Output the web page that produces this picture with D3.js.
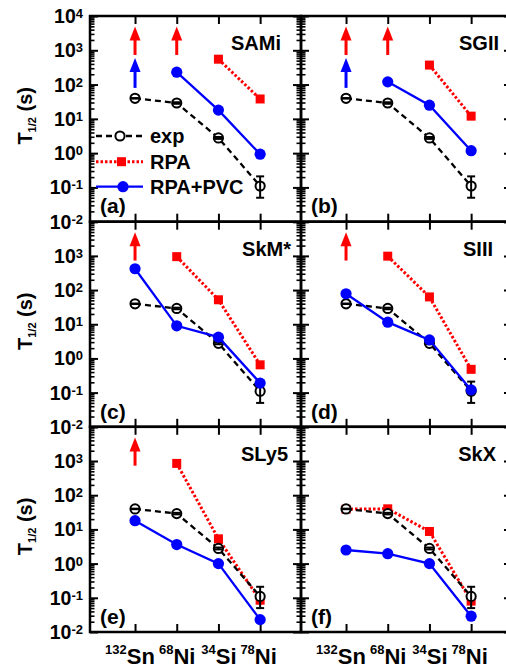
<!DOCTYPE html>
<html><head><meta charset="utf-8">
<script src="https://cdn.jsdelivr.net/npm/d3@7"></script>
<style>
html,body{margin:0;padding:0;background:#fff;}
svg{display:block;}
text{font-family:"Liberation Sans",Arial,Helvetica,sans-serif;font-weight:bold;fill:#000;}
</style></head>
<body>
<svg id="chart" width="506" height="669"></svg>
<script>
// ---------------- data ----------------
const elements = ["Sn", "Ni", "Si", "Ni"];
const massNumbers = ["132", "68", "34", "78"];
const panelNames = ["SAMi", "SGII", "SkM*", "SIII", "SLy5", "SkX"];
const panelLetters = ["(a)", "(b)", "(c)", "(d)", "(e)", "(f)"];

const expValues = [39.7, 29, 2.77, 0.11];
const expErrLow = [39.0, 27.5, 2.6, 0.05];
const expErrHigh = [40.4, 30.5, 2.95, 0.21];

const rpaA = [null, null, 550, 38];
const rpaB = [null, null, 370, 12];
const rpaC = [null, 950, 52, 0.65];
const rpaD = [null, 980, 63, 0.48];
const rpaE = [null, 850, 5.3, 0.085];
const rpaF = [39, 40, 8.7, 0.08];

const pvcA = [null, 230, 18, 0.93];
const pvcB = [null, 120, 25, 1.18];
const pvcC = [420, 9, 4.2, 0.19];
const pvcD = [78, 11.5, 3.5, 0.12];
const pvcE = [18, 3.6, 1.0, 0.023];
const pvcF = [2.5, 1.95, 1.0, 0.029];

// lower-limit arrows (category indices)
const rpaArrows = [[0, 1], [0, 1], [0], [0], [0], []];
const pvcArrows = [[0], [0], [], [], [], []];
const rpaArrowRange = [730, 4900];   // tail, tip
const pvcArrowRange = [80, 600];

const yTickExponents = [4, 3, 2, 1, 0, -1, -2];
const legendLabels = ["exp", "RPA", "RPA+PVC"];

const rpaSeries = [rpaA, rpaB, rpaC, rpaD, rpaE, rpaF];
const pvcSeries = [pvcA, pvcB, pvcC, pvcD, pvcE, pvcF];

// ---------------- layout ----------------
const colX = [[90, 301], [301, 512]];
const rowY = [[16, 221.7], [221.7, 426.8], [426.8, 632]];
const nameEndX = [281, 499, 291, 493, 288, 496];
const xLabelShift = [-5, 0.5, 0.5, -1.5];
const RED = "#ff0000", BLUE = "#0000ff";

const svg = d3.select("#chart");

function panel(i) {
  const col = i % 2, row = Math.floor(i / 2);
  const [x0, x1] = colX[col], [y0, y1] = rowY[row];
  const x = d3.scaleLinear().domain([-1.08, 3.98]).range([x0, x1]);
  const y = d3.scaleLog().domain([1e-2, 1e4]).range([y1, y0]);
  const g = svg.append("g");

  const minors = [];
  for (let e = -2; e < 4; e++) for (let m = 2; m <= 9; m++) minors.push(m * Math.pow(10, e));
  const majors = yTickExponents.map(e => Math.pow(10, e));

  function yAxes(axisFn, xpos) {
    g.append("g").attr("transform", `translate(${xpos},0)`)
      .call(axisFn(y).tickValues(minors).tickSize(4.5).tickFormat(""))
      .call(s => s.select(".domain").remove())
      .call(s => s.selectAll("line").attr("stroke", "#000").attr("stroke-width", 1.6));
    g.append("g").attr("transform", `translate(${xpos},0)`)
      .call(axisFn(y).tickValues(majors).tickSize(8).tickFormat(""))
      .call(s => s.select(".domain").remove())
      .call(s => s.selectAll("line").attr("stroke", "#000").attr("stroke-width", 2));
  }
  yAxes(d3.axisRight, x0);
  yAxes(d3.axisLeft, x1);

  function xAxes(axisFn, ypos) {
    g.append("g").attr("transform", `translate(0,${ypos})`)
      .call(axisFn(x).tickValues([0, 1, 2, 3]).tickSize(8).tickFormat(""))
      .call(s => s.select(".domain").remove())
      .call(s => s.selectAll("line").attr("stroke", "#000").attr("stroke-width", 2));
  }
  xAxes(d3.axisBottom, y0);
  xAxes(d3.axisTop, y1);

  g.append("rect").attr("x", x0).attr("y", y0).attr("width", x1 - x0).attr("height", y1 - y0)
    .attr("fill", "none").attr("stroke", "#000").attr("stroke-width", 2.5);

  // y tick labels (left column only)
  if (col === 0) {
    yTickExponents.forEach(e => {
      if (row > 0 && e === 4) return;
      const t = g.append("text").attr("x", 83).attr("y", y(Math.pow(10, e)) + 7)
        .attr("text-anchor", "end").style("font-size", "19.5px");
      t.append("tspan").text("10");
      t.append("tspan").attr("dy", -5).style("font-size", "13px").text(String(e));
    });
    const cy = (y0 + y1) / 2 - 3;
    const tt = g.append("text").attr("transform", `translate(32,${cy}) rotate(-90)`)
      .attr("text-anchor", "middle").style("font-size", "20px");
    tt.append("tspan").text("T");
    tt.append("tspan").attr("dy", 4).style("font-size", "11px").text("1/2");
    tt.append("tspan").attr("dy", -4).text(" (s)");
  }

  // x tick labels (bottom row only)
  if (row === 2) {
    elements.forEach((el, k) => {
      const t = g.append("text").attr("x", x(k) + xLabelShift[k]).attr("y", 664).attr("text-anchor", "middle")
        .style("font-size", "22px");
      t.append("tspan").attr("dy", -10).style("font-size", "13px").text(massNumbers[k]);
      t.append("tspan").attr("dy", 10).text(el);
    });
  }

  // arrows
  function arrow(k, range, color) {
    const xa = x(k), yt = y(range[0]), yh = y(range[1]);
    const headLen = 14, headW = 5.5;
    g.append("line").attr("x1", xa).attr("x2", xa).attr("y1", yt).attr("y2", yh + headLen - 1)
      .attr("stroke", color).attr("stroke-width", 3);
    g.append("path").attr("d", `M${xa},${yh} L${xa - headW},${yh + headLen} L${xa + headW},${yh + headLen} Z`)
      .attr("fill", color);
  }
  rpaArrows[i].forEach(k => arrow(k, rpaArrowRange, RED));
  pvcArrows[i].forEach(k => arrow(k, pvcArrowRange, BLUE));

  const line = d3.line().defined(d => d.v != null).x(d => x(d.k)).y(d => y(d.v));
  const toPts = arr => arr.map((v, k) => ({ k, v }));

  // RPA
  const rpa = toPts(rpaSeries[i]);
  g.append("path").attr("d", line(rpa)).attr("fill", "none").attr("stroke", RED)
    .attr("stroke-width", 3).attr("stroke-dasharray", "2.5,2");
  g.selectAll(null).data(rpa.filter(d => d.v != null)).join("rect")
    .attr("x", d => x(d.k) - 4.5).attr("y", d => y(d.v) - 4.5).attr("width", 9).attr("height", 9)
    .attr("fill", RED);

  // exp
  const ex = toPts(expValues);
  g.append("path").attr("d", line(ex)).attr("fill", "none").attr("stroke", "#000")
    .attr("stroke-width", 2.3).attr("stroke-dasharray", "6,4");
  g.selectAll(null).data(ex).join("circle")
    .attr("cx", d => x(d.k)).attr("cy", d => y(d.v)).attr("r", 4.6)
    .attr("fill", "#fff").attr("stroke", "#000").attr("stroke-width", 2);
  ex.forEach(d => {
    const xe = x(d.k), ylo = y(expErrLow[d.k]), yhi = y(expErrHigh[d.k]);
    g.append("line").attr("x1", xe).attr("x2", xe).attr("y1", ylo).attr("y2", yhi).attr("stroke", "#000").attr("stroke-width", 2);
    [ylo, yhi].forEach(yy => g.append("line").attr("x1", xe - 4).attr("x2", xe + 4).attr("y1", yy).attr("y2", yy)
      .attr("stroke", "#000").attr("stroke-width", 2));
  });

  // RPA+PVC
  const pvc = toPts(pvcSeries[i]);
  g.append("path").attr("d", line(pvc)).attr("fill", "none").attr("stroke", BLUE).attr("stroke-width", 2.3);
  g.selectAll(null).data(pvc.filter(d => d.v != null)).join("circle")
    .attr("cx", d => x(d.k)).attr("cy", d => y(d.v)).attr("r", 5.6).attr("fill", BLUE);

  // panel name & letter
  g.append("text").attr("x", nameEndX[i]).attr("y", y0 + 34).attr("text-anchor", "end")
    .style("font-size", "20px").text(panelNames[i]);
  g.append("text").attr("x", x0 + 10).attr("y", y0 + 197).style("font-size", "21px").text(panelLetters[i]);

  // legend in panel (a)
  if (i === 0) {
    const ly = [136, 161.7, 186.7];
    const lx0 = 96, lx1 = 143, lm = 120, ltx = 150;
    g.append("line").attr("x1", lx0).attr("x2", lx1).attr("y1", ly[0]).attr("y2", ly[0])
      .attr("stroke", "#000").attr("stroke-width", 2.3).attr("stroke-dasharray", "6,4");
    g.append("circle").attr("cx", lm).attr("cy", ly[0]).attr("r", 4.6).attr("fill", "#fff")
      .attr("stroke", "#000").attr("stroke-width", 2);
    g.append("line").attr("x1", lx0).attr("x2", lx1).attr("y1", ly[1]).attr("y2", ly[1])
      .attr("stroke", RED).attr("stroke-width", 3).attr("stroke-dasharray", "2.5,2");
    g.append("rect").attr("x", lm + 1.5 - 4.5).attr("y", ly[1] - 4.5).attr("width", 9).attr("height", 9).attr("fill", RED);
    g.append("line").attr("x1", lx0).attr("x2", lx1).attr("y1", ly[2]).attr("y2", ly[2])
      .attr("stroke", BLUE).attr("stroke-width", 2.3);
    g.append("circle").attr("cx", lm + 3).attr("cy", ly[2]).attr("r", 5.6).attr("fill", BLUE);
    legendLabels.forEach((lab, k) => {
      g.append("text").attr("x", ltx).attr("y", ly[k] + 7).style("font-size", "20px").text(lab);
    });
  }
}

for (let i = 0; i < 6; i++) panel(i);
</script>
</body></html>
